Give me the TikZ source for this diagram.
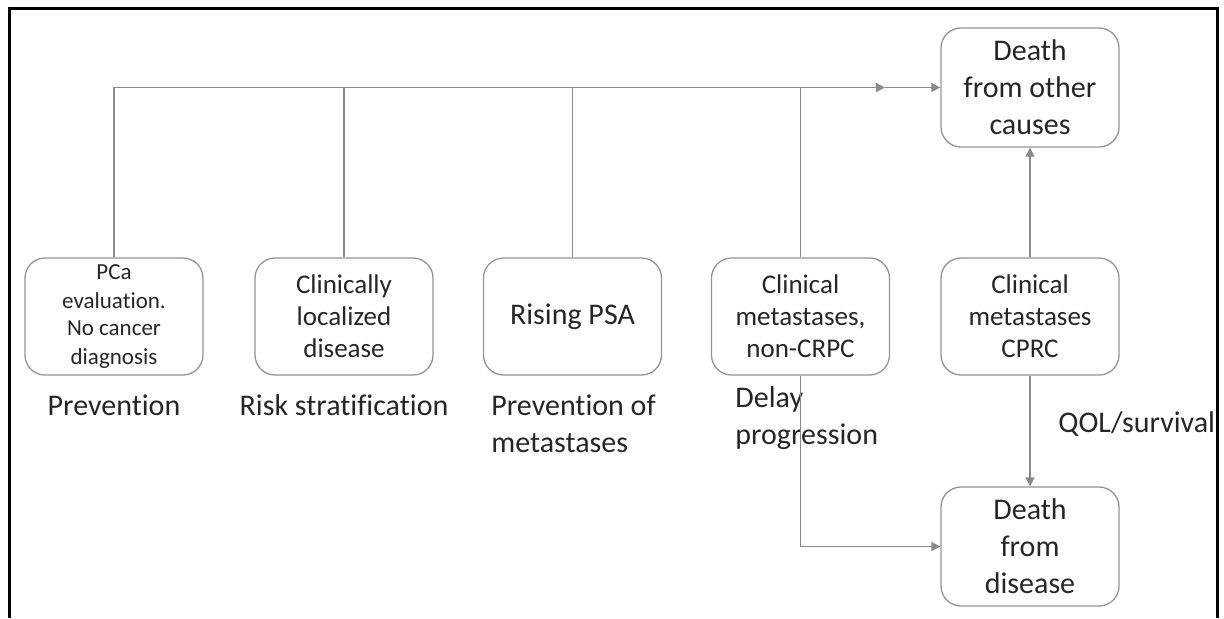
\documentclass[tikz,border=0pt]{standalone}
\usepackage{fontspec}
\setmainfont[Ligatures=NoCommon]{Carlito}
\usetikzlibrary{arrows.meta}
\definecolor{linegray}{HTML}{8A8A8A}
\definecolor{boxgray}{HTML}{949494}
\definecolor{inktext}{HTML}{262626}
\tikzset{
  stage/.style={draw=boxgray, line width=0.65pt, rounded corners=10pt,
                minimum width=89pt, minimum height=58.5pt, inner sep=1pt,
                align=center, text=inktext, font=\fontsize{13.5}{16}\selectfont},
  smallstage/.style={stage, font=\fontsize{11.5}{14}\selectfont},
  endstage/.style={stage, minimum height=59.5pt, font=\fontsize{15}{18.5}\selectfont},
  goal/.style={inner sep=0pt, text=inktext, font=\fontsize{15}{18.5}\selectfont},
  link/.style={draw=linegray, line width=0.75pt},
  linkto/.style={link, -{Triangle[length=4.5pt,width=4.5pt]}},
}
\begin{document}
\begin{tikzpicture}[x=0.5pt,y=-0.5pt]
    \useasboundingbox (0,0) rectangle (1224,618);
    % outer frame, open at the bottom
    \draw[black, line width=1.5pt] (9,618) -- (9,8) -- (1217,8) -- (1217,618);
    % disease states
    \node[smallstage] (pca) at (114,316.5) {PCa\\evaluation.\\No cancer\\diagnosis};
    \node[stage] (local) at (344,316.5) {Clinically\\localized\\disease};
    \node[stage, font=\fontsize{15}{18}\selectfont] (psa) at (572.5,316.5) {Rising PSA};
    \node[stage] (noncrpc) at (800.5,316.5) {Clinical\\metastases,\\non-CRPC};
    \node[stage] (crpc) at (1030,316.5) {Clinical\\metastases\\CPRC};
    \node[endstage] (other) at (1030,87.5) {Death\\from other\\causes};
    \node[endstage] (disease) at (1030,546.5) {Death\\from\\disease};
    % goals under the states (base = last line)
    \node[goal, anchor=base] (gprev) at (114,415) {Prevention};
    \node[goal, anchor=base] (grisk) at (344,415) {Risk stratification};
    \node[goal, anchor=base west, align=left] (gmets) at (491,452) {Prevention of\\metastases};
    \node[goal, anchor=base west, align=left] (gdelay) at (735,444) {Delay\\progression};
    \node[goal, anchor=base west] (gqol) at (1058,432) {QOL/survival};
    % connectors
    \coordinate (topmid) at (885,87.5);
    \draw[linkto] (pca.north) |- (topmid);
    \draw[linkto] (topmid) -- (other.west);
    \draw[link] (local.north) -- (local.north |- topmid);
    \draw[link] (psa.north) -- (psa.north |- topmid);
    \draw[link] (noncrpc.north) -- (noncrpc.north |- topmid);
    \draw[linkto] (noncrpc.south) |- (disease.west);
    \draw[linkto] (crpc.north) -- (other.south);
    \draw[linkto] (crpc.south) -- (disease.north);
  \end{tikzpicture}
\end{document}
